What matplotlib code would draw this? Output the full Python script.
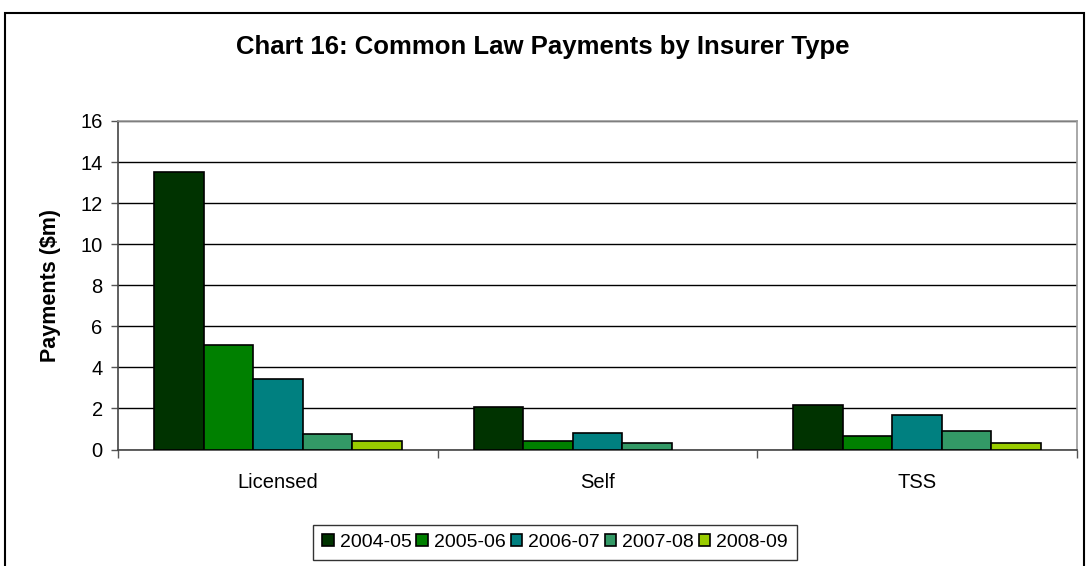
import matplotlib
matplotlib.use("Agg")
import matplotlib.pyplot as plt
from matplotlib.patches import Rectangle
import numpy as np

plt.rcParams['font.family'] = ['Liberation Sans', 'DejaVu Sans']

categories = ["Licensed", "Self", "TSS"]
series_names = ["2004-05", "2005-06", "2006-07", "2007-08", "2008-09"]
v_2004_05 = [13.5, 2.06, 2.17]
v_2005_06 = [5.07, 0.41, 0.68]
v_2006_07 = [3.43, 0.80, 1.66]
v_2007_08 = [0.76, 0.31, 0.90]
v_2008_09 = [0.39, 0.0, 0.31]
series_values = [v_2004_05, v_2005_06, v_2006_07, v_2007_08, v_2008_09]
colors = ["#003300", "#008000", "#008080", "#339966", "#99CC00"]
y_ticks = [0, 2, 4, 6, 8, 10, 12, 14, 16]

W, H = 1086, 566
fig = plt.figure(figsize=(W / 100, H / 100), dpi=100)
ax = fig.add_axes([118 / W, 1 - 449.5 / H, (1077 - 118) / W, (449.5 - 121) / H])

x = np.arange(len(categories))
bw = 0.155
n = len(series_values)
for i, (vals, col, name) in enumerate(zip(series_values, colors, series_names)):
    offs = (i - (n - 1) / 2) * bw
    bars = ax.bar(x + offs, vals, width=bw, color=col, edgecolor="black", linewidth=1.2,
                  label=name, zorder=3)
    for b, v in zip(bars, vals):
        if v == 0:
            b.set_linewidth(0)

ax.set_xlim(-0.5, len(categories) - 0.5)
ax.set_ylim(0, 16)
ax.set_yticks(y_ticks)
ax.set_yticklabels([str(t) for t in y_ticks], fontsize=14.5)
ax.yaxis.grid(True, color="black", linewidth=1.0, zorder=0)
ax.set_axisbelow(True)

ax.set_xticks(x)
ax.set_xticklabels(categories, fontsize=14.5)
ax.tick_params(axis="x", which="major", length=0, pad=17)
ax.set_xticks(np.arange(-0.5, len(categories)), minor=True)
ax.tick_params(axis="x", which="minor", length=6, width=1, color="#555555", direction="out")
ax.tick_params(axis="y", length=5, width=1, color="#555555", direction="out", pad=6)

for s in ["top", "right"]:
    ax.spines[s].set_color("#999999")
    ax.spines[s].set_linewidth(1.2)
for s in ["left", "bottom"]:
    ax.spines[s].set_color("#444444")
    ax.spines[s].set_linewidth(1.2)

ax.set_ylabel("Payments ($m)", fontsize=15.5, fontweight="bold", labelpad=14)

fig.text(0.5, 1 - 47 / H, "Chart 16: Common Law Payments by Insurer Type",
         ha="center", va="center", fontsize=18.5, fontweight="bold")

# outer chart border
fig.patches.append(Rectangle((5 / W, -0.1), (1084 - 5) / W, 1 - 13 / H + 0.1,
                             transform=fig.transFigure, fill=False,
                             edgecolor="black", linewidth=1.5, zorder=0))

leg = fig.legend(loc="upper center", bbox_to_anchor=(555 / W, 1 - 525 / H),
                 ncol=5, fontsize=14, frameon=True, fancybox=False,
                 edgecolor="black", handlelength=0.6, handleheight=0.6,
                 handletextpad=0.3, columnspacing=0.25, borderpad=0.45,
                 borderaxespad=0)
leg.get_frame().set_linewidth(1.0)

fig.savefig("out.png", dpi=100)
